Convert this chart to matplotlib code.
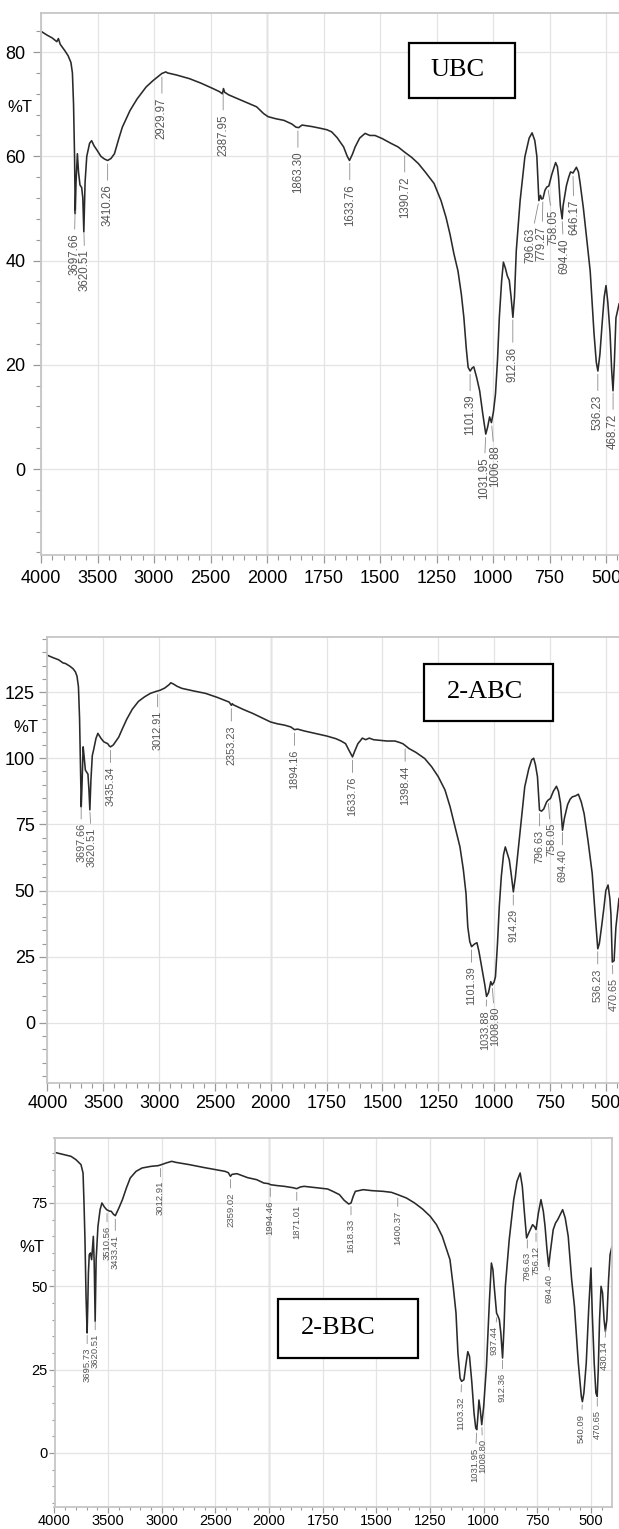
import numpy as np
import matplotlib.pyplot as plt
from matplotlib.patches import Rectangle

# ---- spectra: wavenumber (cm-1) and %T ----
ubc_wn = [4000, 3950, 3900, 3860, 3846, 3830, 3790, 3760, 3735, 3722, 3712, 3703, 3697,
          3690, 3678, 3668, 3655, 3640, 3630, 3621, 3610, 3595, 3570, 3552, 3530, 3505,
          3470, 3440, 3410, 3380, 3350, 3310, 3280, 3240, 3212, 3150, 3070, 3010, 2965,
          2930, 2895, 2880, 2800, 2686, 2580, 2478, 2420, 2395, 2385, 2375, 2340, 2265,
          2180, 2092, 2030, 1995, 1960, 1925, 1890, 1872, 1860, 1845, 1800, 1766, 1735,
          1714, 1690, 1661, 1645, 1635, 1622, 1610, 1590, 1566, 1545, 1522, 1490, 1452,
          1420, 1391, 1360, 1330, 1300, 1261, 1230, 1208, 1190, 1173, 1155, 1140, 1129,
          1118, 1110, 1101, 1092, 1085, 1072, 1059, 1045, 1032, 1024, 1015, 1007, 998,
          989, 980, 972, 962, 954, 945, 937, 928, 920, 912, 905, 897, 880, 859, 840, 827,
          815, 806, 797, 790, 785, 779, 770, 762, 753, 740, 723, 715, 710, 702, 694, 690,
          675, 665, 657, 646, 631, 622, 615, 600, 588, 570, 553, 543, 536, 527, 517, 508,
          500, 492, 482, 475, 469, 463, 456, 442]
ubc_t = [84.0, 83.3, 82.7, 82.0, 82.6, 81.5, 80.3, 79.3, 78.0, 76.0, 70.0, 60.0, 49.0,
         55.0, 60.5, 57.0, 54.5, 54.0, 52.0, 45.5, 55.0, 60.0, 62.5, 63.0, 62.0, 61.2,
         60.0, 59.5, 59.2, 59.6, 60.5, 63.5, 65.6, 67.5, 68.8, 71.0, 73.3, 74.5, 75.3,
         75.9, 76.2, 76.0, 75.6, 74.9, 74.0, 73.0, 72.4, 72.0, 73.0, 72.3, 71.8, 71.1,
         70.3, 69.5, 68.2, 67.6, 67.2, 66.9, 66.2, 65.6, 65.5, 66.0, 65.7, 65.4, 65.1,
         64.7, 63.6, 61.8, 60.0, 59.2, 60.4, 61.8, 63.5, 64.4, 64.0, 64.0, 63.4, 62.5,
         61.8, 60.8, 59.8, 58.6, 57.0, 54.8, 51.5, 48.3, 45.0, 41.3, 38.0, 33.5, 29.1,
         23.0, 19.5, 18.8, 19.4, 19.6, 17.5, 15.0, 10.5, 6.7, 8.0, 10.0, 8.9, 11.0,
         14.4, 21.0, 29.1, 36.0, 39.7, 38.5, 37.1, 36.2, 33.0, 29.1, 33.0, 41.9, 51.5,
         59.9, 63.5, 64.5, 63.0, 60.0, 51.5, 52.5, 51.8, 51.9, 53.5, 54.1, 54.3, 56.5,
         58.8, 58.0, 56.0, 50.5, 48.0, 50.5, 54.4, 56.0, 57.0, 56.8, 57.9, 57.0, 55.0,
         50.0, 45.2, 38.0, 26.0, 20.5, 18.8, 22.0, 28.0, 33.0, 35.2, 32.0, 26.0, 19.0,
         15.0, 20.5, 29.0, 31.7]

abc_wn = [4000, 3950, 3900, 3860, 3839, 3800, 3770, 3749, 3735, 3722, 3712, 3704, 3697,
          3690, 3680, 3672, 3660, 3645, 3637, 3628, 3620, 3610, 3598, 3587, 3565, 3548,
          3520, 3495, 3475, 3460, 3445, 3435, 3410, 3380, 3361, 3330, 3290, 3240, 3184,
          3130, 3078, 3030, 2990, 2950, 2910, 2895, 2870, 2840, 2796, 2700, 2584, 2480,
          2372, 2353, 2345, 2336, 2250, 2160, 2080, 2002, 1970, 1938, 1910, 1894, 1880,
          1850, 1797, 1750, 1709, 1685, 1665, 1650, 1634, 1625, 1610, 1600, 1590, 1575,
          1559, 1540, 1514, 1480, 1444, 1425, 1409, 1398, 1382, 1350, 1311, 1280, 1250,
          1220, 1197, 1175, 1153, 1138, 1126, 1118, 1109, 1101, 1088, 1077, 1068, 1056,
          1042, 1034, 1025, 1015, 1009, 1000, 994, 985, 977, 968, 958, 950, 941, 932,
          924, 914, 905, 889, 875, 863, 845, 832, 823, 815, 806, 797, 788, 778, 765, 758,
          748, 735, 721, 712, 703, 694, 685, 671, 660, 650, 635, 623, 610, 597, 580, 561,
          547, 536, 529, 518, 508, 500, 490, 482, 477, 471, 463, 455, 441]
abc_t = [138.9, 138.0, 137.2, 136.0, 135.8, 134.8, 133.8, 132.6, 131.0, 127.0, 115.0,
         96.7, 81.6, 90.0, 104.3, 101.0, 95.5, 94.5, 94.0, 88.0, 80.5, 92.0, 101.0, 103.0,
         107.5, 109.4, 107.5, 106.2, 105.8, 105.5, 104.6, 104.3, 105.0, 106.8, 108.0,
         111.0, 114.7, 118.5, 121.5, 123.2, 124.5, 125.2, 125.7, 126.5, 127.8, 128.5,
         128.0, 127.2, 126.4, 125.5, 124.5, 123.0, 121.2, 120.0, 120.6, 120.2, 118.5,
         116.9, 115.3, 113.7, 113.0, 112.5, 111.8, 110.8, 111.0, 110.3, 109.3, 108.4,
         107.4, 106.5, 105.5, 103.0, 100.5, 102.5, 105.5, 106.5, 107.6, 107.0, 107.6,
         107.0, 106.8, 106.5, 106.5, 106.0, 105.5, 104.8, 103.7, 102.2, 99.9, 96.8, 93.0,
         88.0, 81.6, 74.0, 66.5, 58.0, 48.9, 36.3, 30.7, 28.8, 29.8, 30.3, 27.0, 21.2,
         14.5, 10.0, 11.5, 15.6, 14.3, 15.5, 17.5, 30.0, 43.9, 55.2, 63.5, 66.5, 64.0,
         61.5, 56.5, 49.5, 55.0, 67.9, 79.0, 89.2, 96.0, 99.4, 100.0, 97.5, 93.0, 80.4,
         80.0, 80.8, 83.5, 84.2, 84.8, 87.5, 89.4, 87.5, 83.0, 72.8, 77.5, 82.5, 84.5,
         85.4, 85.8, 86.4, 83.5, 79.0, 69.0, 56.5, 40.1, 28.0, 30.0, 37.0, 43.9, 50.0,
         52.1, 47.0, 41.0, 23.0, 23.5, 36.0, 47.0]

bbc_wn = [4000, 3950, 3900, 3846, 3800, 3753, 3734, 3725, 3716, 3706, 3696, 3690, 3684,
          3676, 3665, 3654, 3645, 3638, 3630, 3621, 3612, 3595, 3575, 3558, 3535, 3514,
          3490, 3471, 3450, 3433, 3400, 3367, 3330, 3294, 3240, 3184, 3100, 3035, 3013,
          2960, 2908, 2870, 2742, 2600, 2480, 2411, 2380, 2360, 2345, 2300, 2200, 2116,
          2050, 2005, 1994, 1960, 1929, 1890, 1871, 1855, 1837, 1780, 1727, 1700, 1672,
          1650, 1629, 1618, 1608, 1598, 1561, 1520, 1469, 1430, 1400, 1360, 1322, 1285,
          1249, 1220, 1193, 1175, 1157, 1142, 1129, 1120, 1110, 1103, 1092, 1083, 1074,
          1066, 1055, 1045, 1037, 1032, 1027, 1022, 1016, 1009, 1000, 987, 973, 964, 957,
          951, 940, 933, 927, 920, 912, 905, 899, 881, 860, 845, 830, 820, 810, 800, 790,
          772, 762, 756, 745, 733, 722, 714, 705, 697, 690, 676, 665, 655, 632, 620, 606,
          590, 577, 559, 545, 540, 533, 522, 510, 500, 494, 485, 477, 471, 466, 460, 453,
          446, 439, 433, 426, 418, 411, 402]
bbc_t = [90.2, 89.8, 89.4, 89.0, 88.0, 86.5, 84.0, 75.0, 64.0, 46.9, 36.0, 44.0, 54.0,
         59.5, 60.0, 58.0, 62.0, 65.0, 57.0, 39.5, 58.0, 68.0, 73.0, 75.0, 73.8, 73.0,
         72.6, 72.5, 71.6, 71.2, 73.5, 76.0, 79.5, 82.5, 84.5, 85.5, 86.0, 86.2, 86.4,
         87.0, 87.5, 87.2, 86.5, 85.6, 84.9, 84.5, 84.1, 83.0, 83.6, 83.8, 82.6, 82.0,
         81.0, 80.8, 80.5, 80.2, 80.0, 79.6, 79.3, 79.8, 80.0, 79.6, 79.2, 78.4, 77.5,
         75.8, 74.7, 75.0, 77.0, 78.5, 79.0, 78.7, 78.5, 78.2, 77.5, 76.5, 75.0, 73.2,
         71.0, 68.5, 65.0, 61.5, 58.0, 50.0, 42.0, 30.0, 22.5, 21.5, 22.0, 26.5, 30.4,
         29.0, 21.0, 12.0, 7.5, 7.0, 11.0, 15.9, 13.0, 8.5, 14.0, 26.0, 46.0, 57.0, 55.0,
         50.0, 42.0, 41.0, 40.0, 36.0, 28.5, 38.0, 50.0, 64.0, 76.0, 81.5, 84.0, 80.0,
         72.0, 64.5, 66.0, 68.5, 67.8, 67.0, 72.0, 76.0, 72.5, 68.0, 61.0, 56.0, 60.0,
         67.0, 69.0, 70.0, 73.0, 70.5, 65.0, 52.0, 44.0, 27.0, 17.0, 15.4, 18.0, 27.0,
         44.0, 55.5, 42.0, 27.0, 18.0, 17.0, 25.0, 40.0, 50.0, 48.0, 40.0, 36.5, 40.0,
         52.0, 59.5, 62.0]

# ---- peak labels ----
ubc_peaks = [3697.66, 3620.51, 3410.26, 2929.97, 2387.95, 1863.30, 1633.76, 1390.72,
             1101.39, 1031.95, 1006.88, 912.36, 796.63, 779.27, 758.05, 694.40, 646.17,
             536.23, 468.72]
abc_peaks = [3697.66, 3620.51, 3435.34, 3012.91, 2353.23, 1894.16, 1633.76, 1398.44,
             1101.39, 1033.88, 1008.80, 914.29, 796.63, 758.05, 694.40, 536.23, 470.65]
bbc_peaks = [3695.73, 3620.51, 3510.56, 3433.41, 3012.91, 2359.02, 1994.46, 1871.01,
             1618.33, 1400.37, 1103.32, 1031.95, 1008.80, 937.44, 912.36, 796.63, 756.12,
             694.40, 540.09, 470.65, 430.14]

x_major = [4000, 3500, 3000, 2500, 2000, 1750, 1500, 1250, 1000, 750, 500]
x_minor = [v for v in range(2100, 4000, 100) if v % 500] + \
          [v for v in range(450, 2000, 50) if v % 250]


# the instrument axis: 500 cm-1 per division above 2000, 250 below
def fwd(x):
    x = np.asarray(x, dtype=float)
    return np.where(x >= 2000, (x - 2000) / 500.0, (x - 2000) / 250.0)


def inv(u):
    u = np.asarray(u, dtype=float)
    return np.where(u >= 0, 2000 + 500.0 * u, 2000 + 250.0 * u)


TICK_FONT = ['Liberation Sans Narrow', 'Liberation Sans', 'DejaVu Sans']


def setup(ax, ylim, yticks, yminor, xright, fs, tl=6, pad=3):
    ax.set_xscale('function', functions=(fwd, inv))
    ax.set_xlim(4000, xright)
    ax.set_ylim(*ylim)
    ax.set_xticks(x_major)
    ax.set_xticklabels([str(v) for v in x_major])
    ax.set_xticks(x_minor, minor=True)
    ax.set_yticks(yticks)
    ax.set_yticklabels([str(v) for v in yticks])
    ax.set_yticks(yminor, minor=True)
    ax.set_axisbelow(True)
    ax.grid(True, which='major', color='#e4e4e4', lw=0.9)
    ax.axvline(2000, color='#b8b8b8', lw=1.0, zorder=0.5)
    for s in ax.spines.values():
        s.set_color('#c6c6c6')
        s.set_linewidth(1.3)
    ax.tick_params(which='major', length=tl, width=0.9, color='#999999',
                   labelsize=fs, pad=pad)
    ax.tick_params(which='minor', length=tl * 0.6, width=0.8, color='#999999')
    for lab in ax.get_xticklabels() + ax.get_yticklabels():
        lab.set_family(TICK_FONT)


def label_peaks(ax, wn, tr, peaks, size, drop, tweaks):
    xs = np.array(wn[::-1], dtype=float)
    ys = np.array(tr[::-1], dtype=float)
    for p in peaks:
        y = np.interp(p, xs, ys)
        dx, d = tweaks.get(p, (0, drop))
        ax.annotate(f'{p:.2f}', xy=(p, y), xytext=(dx, -d),
                    textcoords='offset pixels', rotation=90, ha='center', va='top',
                    fontsize=size, color='#555555', family='Liberation Sans',
                    arrowprops=dict(arrowstyle='-', color='#8a8a8a', lw=0.6,
                                    shrinkA=1, shrinkB=2.5))


W, H = 619, 1529
fig = plt.figure(figsize=(W / 100, H / 100), dpi=100)


def px_axes(left, right, top, bottom):
    return fig.add_axes([left / W, 1 - bottom / H, (right - left) / W, (bottom - top) / H])


line_kw = dict(color='#2a2a2a', lw=1.15)

# UBC
ax1 = px_axes(41, 619, 13, 555)
setup(ax1, (-16.5, 87.5), [0, 20, 40, 60, 80], np.arange(-16, 88, 4), 442.5, 13, pad=5)
ax1.spines['right'].set_visible(False)
ax1.plot(ubc_wn, ubc_t, **line_kw)
label_peaks(ax1, ubc_wn, ubc_t, ubc_peaks, 8.3, 24,
            {3697.66: (-1, 26), 3620.51: (1, 20), 1031.95: (-2, 23), 1006.88: (4, 23),
             796.63: (-9, 27), 779.27: (-1, 27), 758.05: (6, 23), 694.40: (2, 20),
             646.17: (1, 27), 912.36: (0, 30)})

# 2-ABC
ax2 = px_axes(47.4, 619, 637, 1083)
setup(ax2, (-22.7, 145.8), [0, 25, 50, 75, 100, 125], np.arange(-20, 146, 5), 441, 13)
ax2.spines['right'].set_visible(False)
ax2.plot(abc_wn, abc_t, **line_kw)
label_peaks(ax2, abc_wn, abc_t, abc_peaks, 7.8, 20,
            {3620.51: (2, 19), 1033.88: (-1, 14), 1008.80: (3, 22), 758.05: (3, 23),
             470.65: (1, 16), 914.29: (0, 18)})

# 2-BBC
ax3 = px_axes(54.5, 612, 1138, 1507)
setup(ax3, (-16.2, 94.5), [0, 25, 50, 75], np.arange(-15, 95, 5), 402, 10.5, tl=4, pad=1)
ax3.plot(bbc_wn, bbc_t, **line_kw)
label_peaks(ax3, bbc_wn, bbc_t, bbc_peaks, 6.8, 16,
            {3433.41: (0, 19), 937.44: (-3, 12), 1031.95: (-2, 18), 1008.80: (1, 15),
             1103.32: (-1, 15), 694.40: (0, 13), 540.09: (-1, 12), 430.14: (-2, 15)})

# %T labels
for (x, y) in [(20, 107), (26, 727), (32, 1247)]:
    fig.text(x / W, 1 - y / H, '%T', ha='center', va='center', fontsize=12,
             family=TICK_FONT)

# sample boxes
for name, (l, r, t, b), tx in [('UBC', (409, 515, 43, 98), 458),
                               ('2-ABC', (424, 553, 664, 721), 485),
                               ('2-BBC', (278, 418, 1299, 1358), 338)]:
    fig.add_artist(Rectangle((l / W, 1 - b / H), (r - l) / W, (b - t) / H,
                             transform=fig.transFigure, fill=True, facecolor='white',
                             edgecolor='black', lw=1.6))
    fig.text(tx / W, 1 - (t + b) / 2 / H, name, ha='center', va='center',
             fontsize=19, family='Liberation Serif')

fig.savefig('out.png', dpi=100)
